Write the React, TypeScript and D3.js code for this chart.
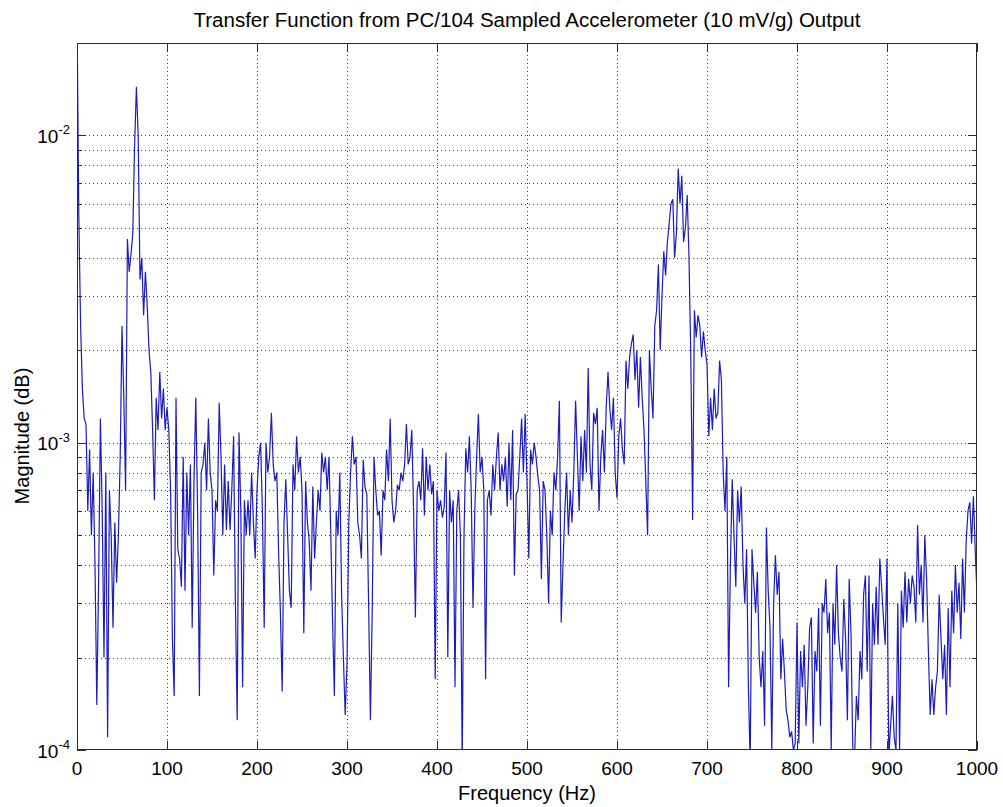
import React from "react";
import * as d3 from "d3";

// ---- chart data ----
const TITLE = "Transfer Function from PC/104 Sampled Accelerometer (10 mV/g) Output";
const X_LABEL = "Frequency (Hz)";
const Y_LABEL = "Magnitude (dB)";
const X_TICKS = [0, 100, 200, 300, 400, 500, 600, 700, 800, 900, 1000];
const Y_DECADE_EXPONENTS = [-4, -3, -2];
const Y_DOMAIN: [number, number] = [1e-4, 2e-2];
const X_DOMAIN: [number, number] = [0, 1000];
const FREQ_STEP_HZ = 2; // spacing of the frequency bins
const MAG_UNIT = 1e-4; // magnitudes below are in units of 1e-4

// magnitude at 0, 2, 4, ... 1000 Hz (x 1e-4)
const magnitude = [
  250, 55, 24, 15, 12, 11.5, 6, 9.5, 5, 8,
  4, 1.4, 3.5, 12, 6, 2, 8, 1.1, 7, 5,
  2.5, 5.5, 3.5, 5, 9, 24, 14, 7, 46, 36,
  41, 48, 93, 144, 100, 34, 40, 26, 36, 28,
  20, 17, 11, 6.5, 14, 11, 17, 12, 15, 11,
  13, 11, 7, 2.3, 1.5, 14, 4.5, 4.2, 3.4, 9,
  3.3, 8, 5, 8.5, 2.5, 7.5, 14, 6, 1.5, 8,
  8.5, 10, 7, 12, 8, 7, 3.7, 6.5, 6, 13.5,
  9, 5, 8.5, 5.2, 7.5, 5.2, 7, 10.5, 3, 1.25,
  10.8, 6, 1.6, 6.5, 5, 6.5, 5, 8, 5.5, 4.2,
  7, 9, 10, 6, 2.5, 10, 8, 9, 12.5, 8.5,
  7.5, 8, 4.4, 2.8, 1.55, 5.5, 7.6, 5, 3.3, 2.9,
  8.5, 7, 10.5, 8, 9, 7, 2.4, 7.5, 5.5, 4.8,
  3.3, 7.2, 4.2, 5.5, 7, 6, 9.3, 8, 9, 7,
  9, 5, 2.6, 1.5, 6, 5, 8, 3.2, 2, 1.3,
  1.9, 5.5, 8, 10.5, 8.5, 9, 5.5, 5, 4.2, 8.8,
  7.2, 6.8, 3, 1.25, 2.8, 9, 7, 5.8, 6, 4.3,
  7, 6.5, 9.5, 7.5, 12, 6.5, 5.5, 6, 7.3, 7,
  8, 7.5, 8.5, 11.5, 8.5, 9, 11, 6, 2.7, 7,
  7.5, 6.5, 9.6, 5.8, 9, 7, 8.5, 6.8, 7.5, 1.7,
  7, 6, 6.5, 5.7, 6.2, 9.3, 2, 7, 5.5, 6.5,
  1.6, 6, 7, 5, 0.9, 5, 9.6, 8, 10.5, 7,
  2.9, 6, 9, 12.4, 8, 9, 7, 1.7, 6.5, 7,
  5.8, 8.5, 7, 9, 10.8, 7, 8.5, 7.5, 9, 6.2,
  10, 6.5, 11, 3.7, 6.8, 7, 9, 12, 8, 12.4,
  7.5, 4.2, 9.5, 8.5, 10, 9, 7.8, 7, 3.6, 7.5,
  7, 5, 3, 6, 5, 8, 7, 9, 13.7, 2.6,
  4, 6, 8, 5, 7, 5.5, 8, 13.7, 9, 6,
  10.5, 7.5, 11, 8, 17.5, 8.5, 7, 12.5, 11.5, 13,
  6, 9, 11, 8, 13, 17, 13, 11, 14, 8,
  6.6, 10.5, 12, 9.5, 8.5, 18.5, 15, 19, 21, 22.5,
  16, 20, 13, 19, 14, 11, 7.5, 5, 20, 15,
  12, 24, 27, 38, 20, 30, 42, 35, 45, 52,
  60, 62, 40, 48, 78, 60, 74, 45, 50, 64,
  40, 19, 5.6, 27, 22, 26, 24, 19, 23, 20,
  18, 10.5, 14, 11, 15, 12, 12.5, 18.5, 16, 8,
  6, 9, 1.6, 4, 7.6, 5, 3.4, 7, 5.5, 7.2,
  4, 3, 4.5, 1.6, 0.9, 4.5, 3.5, 2.8, 3.8, 2,
  1.6, 2.1, 1.2, 5.3, 3.3, 2.5, 1, 3, 4.3, 3.2,
  3.8, 1.7, 2.3, 1.8, 1.35, 1.25, 1.1, 1.15, 1.0, 1.05,
  2.6, 1.05, 2.1, 1.6, 2.2, 1.2, 1.6, 2.5, 2.7, 1.05,
  2.1, 1.8, 2.9, 1.2, 3, 2.8, 3.6, 2.4, 2.8, 1.0,
  3, 2.2, 4, 2.4, 2, 1.8, 3.1, 2.3, 1.25, 3.6,
  2.4, 1.0, 0.95, 1.5, 1.25, 2.1, 1.7, 3.2, 3.7, 1.8,
  3.7, 1.0, 3, 2.2, 3.4, 2.2, 4.2, 3.4, 2.7, 2.2,
  4.2, 0.95, 1.2, 1.5, 1.1, 1.0, 3, 1.0, 3.3, 2.5,
  3.8, 2.6, 3.6, 3, 3.7, 3.4, 2.6, 5.4, 3.2, 4,
  2.6, 5, 3.6, 2.1, 1.3, 1.7, 1.3, 1.6, 1.8, 3.2,
  2.3, 1.7, 2.2, 1.3, 2.9, 1.6, 3.3, 2.4, 4, 2.8,
  3.5, 2.3, 4.2, 2.8, 4.8, 6, 6.4, 4.7, 6.7, 4.5,
  3.2,
];

const FONT = "'Liberation Sans', Arial, Helvetica, sans-serif";

export default function App() {
  const W = 1003;
  const H = 807;
  const L = 77, R = 977, T = 43, B = 750;

  const x = d3.scaleLinear().domain(X_DOMAIN).range([L, R]);
  const y = d3.scaleLog().domain(Y_DOMAIN).range([B, T]);

  const points = magnitude.map((v, i) => [i * FREQ_STEP_HZ, v * MAG_UNIT] as [number, number]);
  const line = d3
    .line<[number, number]>()
    .x((d) => x(d[0]))
    .y((d) => y(d[1]));

  // major and minor log ticks inside the domain
  const majorY: number[] = [];
  const minorY: number[] = [];
  Y_DECADE_EXPONENTS.forEach((e) => {
    const base = Math.pow(10, e);
    majorY.push(base);
    for (let k = 2; k <= 9; k++) {
      const v = k * base;
      if (v < Y_DOMAIN[1] * 0.999) minorY.push(v);
    }
  });

  const px = (v: number) => Math.round(v) + 0.5;
  const axisColor = "#2b2b2b";
  const gridColor = "#3a3a3a";

  const gridX = X_TICKS.filter((t) => t > X_DOMAIN[0] && t < X_DOMAIN[1]);
  const gridY = [...majorY, ...minorY].filter((v) => v > Y_DOMAIN[0] && v < Y_DOMAIN[1]);

  return (
    <svg
      width={W}
      height={H}
      viewBox={`0 0 ${W} ${H}`}
      style={{ position: "absolute", left: 0, top: 0, background: "#fff" }}
      fontFamily={FONT}
    >
      <rect x={0} y={0} width={W} height={H} fill="#fff" />
      <defs>
        <clipPath id="plotClip">
          <rect x={L} y={T} width={R - L} height={B - T} />
        </clipPath>
      </defs>

      {/* grid */}
      <g stroke={gridColor} strokeWidth={1} strokeDasharray="1 3" fill="none">
        {gridX.map((t) => (
          <line key={"gx" + t} x1={px(x(t))} x2={px(x(t))} y1={T} y2={B} />
        ))}
        {gridY.map((v) => (
          <line key={"gy" + v} x1={L} x2={R} y1={px(y(v))} y2={px(y(v))} />
        ))}
      </g>

      {/* data */}
      <g clipPath="url(#plotClip)">
        <path d={line(points) || ""} fill="none" stroke="#1c1cb8" strokeWidth={1.2} strokeLinejoin="miter" />
      </g>

      {/* box */}
      <rect x={L + 0.5} y={T + 0.5} width={R - L - 1} height={B - T - 1} fill="none" stroke={axisColor} strokeWidth={1} />

      {/* ticks */}
      <g stroke={axisColor} strokeWidth={1}>
        {X_TICKS.map((t) => (
          <g key={"xt" + t}>
            <line x1={px(x(t))} x2={px(x(t))} y1={B} y2={B - 9} />
            <line x1={px(x(t))} x2={px(x(t))} y1={T} y2={T + 9} />
          </g>
        ))}
        {majorY.map((v) => (
          <g key={"ymt" + v}>
            <line x1={L} x2={L + 9} y1={px(y(v))} y2={px(y(v))} />
            <line x1={R} x2={R - 9} y1={px(y(v))} y2={px(y(v))} />
          </g>
        ))}
        {minorY.map((v) => (
          <g key={"ynt" + v}>
            <line x1={L} x2={L + 5} y1={px(y(v))} y2={px(y(v))} />
            <line x1={R} x2={R - 5} y1={px(y(v))} y2={px(y(v))} />
          </g>
        ))}
      </g>

      {/* x tick labels */}
      <g fontSize={19} fill="#000" textAnchor="middle">
        {X_TICKS.map((t) => (
          <text key={"xl" + t} x={x(t)} y={B + 25}>
            {t}
          </text>
        ))}
      </g>

      {/* y tick labels */}
      <g fontSize={19} fill="#000" textAnchor="end">
        {Y_DECADE_EXPONENTS.map((e) => (
          <text key={"yl" + e} x={70} y={y(Math.pow(10, e)) + 7.5}>
            10
            <tspan dy={-8.5} fontSize={13}>
              {String(e)}
            </tspan>
          </text>
        ))}
      </g>

      {/* labels */}
      <text x={(L + R) / 2} y={27} fontSize={20.5} textAnchor="middle" fill="#000">
        {TITLE}
      </text>
      <text x={(L + R) / 2} y={800} fontSize={20} textAnchor="middle" fill="#000">
        {X_LABEL}
      </text>
      <text transform={`translate(29, 436) rotate(-90)`} fontSize={20} textAnchor="middle" fill="#000">
        {Y_LABEL}
      </text>
    </svg>
  );
}
